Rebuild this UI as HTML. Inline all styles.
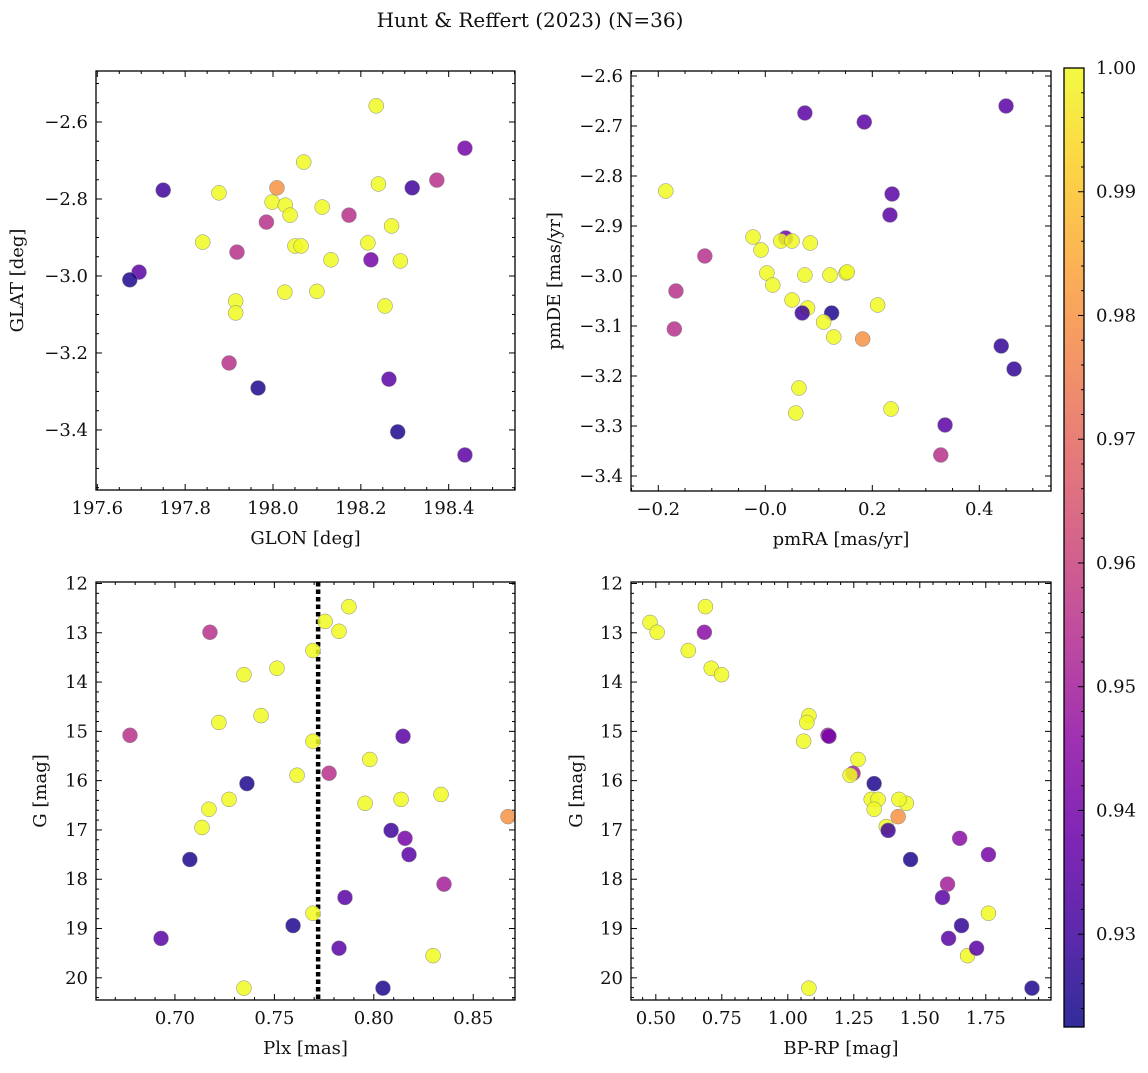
<!DOCTYPE html>
<html><head><meta charset="utf-8">
<style>
html,body{margin:0;padding:0;background:#fff;}
svg text{font-family:"DejaVu Serif","Liberation Serif",serif;fill:#111;}
</style></head>
<body>
<svg id="fig" width="1148" height="1068" viewBox="0 0 1148 1068" xmlns="http://www.w3.org/2000/svg">
<text x="530" y="27" font-size="20" text-anchor="middle">Hunt &amp; Reffert (2023) (N=36)</text>
<defs>
<linearGradient id="plasma" x1="0" y1="1" x2="0" y2="0">
<stop offset="0" stop-color="#0d0887"/><stop offset="0.1" stop-color="#41049d"/><stop offset="0.2" stop-color="#6a00a8"/><stop offset="0.3" stop-color="#8f0da4"/><stop offset="0.4" stop-color="#b12a90"/><stop offset="0.5" stop-color="#cc4778"/><stop offset="0.6" stop-color="#e16462"/><stop offset="0.7" stop-color="#f2844b"/><stop offset="0.8" stop-color="#fca636"/><stop offset="0.9" stop-color="#fcce25"/><stop offset="1" stop-color="#f0f921"/>
</linearGradient>
</defs>
</svg>
<script>
// ---- data ----
const tlGlon = [198.235,198.009,198.07,197.75,198.317,198.437,198.373,198.24,197.877,197.998,198.028,198.112,197.985,198.039,198.173,197.84,198.27,198.05,198.064,198.216,197.918,198.132,198.223,198.29,197.695,197.674,197.915,198.027,198.1,198.255,197.915,197.9,197.966,198.264,198.284,198.437];
const tlGlat = [-2.558,-2.771,-2.704,-2.777,-2.771,-2.668,-2.751,-2.761,-2.784,-2.808,-2.816,-2.821,-2.86,-2.842,-2.842,-2.912,-2.87,-2.922,-2.922,-2.914,-2.938,-2.958,-2.958,-2.961,-2.99,-3.01,-3.065,-3.042,-3.04,-3.078,-3.096,-3.226,-3.291,-3.268,-3.405,-3.465];
const tlProb = [1,0.98,1,0.93,0.93,0.94,0.955,1,1,1,1,1,0.955,1,0.955,1,1,1,1,1,0.955,1,0.94,1,0.935,0.925,1,1,1,1,1,0.955,0.925,0.935,0.925,0.935];

const trPmra = [0.074,0.185,0.45,-0.186,0.237,0.233,-0.023,0.038,0.029,0.05,0.084,-0.008,-0.113,0.003,0.074,0.121,0.151,0.153,0.014,-0.167,0.05,0.21,0.079,0.069,0.124,0.109,-0.17,0.128,0.182,0.441,0.465,0.063,0.235,0.057,0.336,0.328];
const trPmde = [-2.674,-2.692,-2.66,-2.83,-2.836,-2.878,-2.922,-2.924,-2.93,-2.93,-2.934,-2.948,-2.96,-2.994,-2.998,-2.998,-2.994,-2.992,-3.018,-3.03,-3.048,-3.058,-3.064,-3.074,-3.074,-3.092,-3.106,-3.122,-3.126,-3.14,-3.186,-3.224,-3.266,-3.274,-3.298,-3.358];
const trProb = [0.935,0.935,0.935,1,0.935,0.935,1,0.94,1,1,1,1,0.955,1,1,1,1,1,1,0.955,1,1,1,0.93,0.925,1,0.955,1,0.98,0.928,0.928,1,1,1,0.935,0.955];

const blPlx = [0.7875,0.7755,0.7176,0.7825,0.7694,0.7513,0.7347,0.7433,0.7221,0.6774,0.8147,0.7694,0.7775,0.798,0.7614,0.7362,0.8338,0.8137,0.7272,0.7956,0.7171,0.8675,0.7136,0.8087,0.8157,0.8177,0.7075,0.8353,0.7855,0.7694,0.7594,0.8298,0.693,0.7825,0.7347,0.8046];
const blG = [12.47,12.77,12.99,12.97,13.36,13.72,13.85,14.68,14.82,15.08,15.1,15.2,15.85,15.57,15.89,16.06,16.28,16.38,16.38,16.46,16.58,16.73,16.95,17.01,17.17,17.5,17.6,18.1,18.37,18.69,18.94,19.55,19.2,19.4,20.21,20.21];
const blProb = [1,1,0.955,1,1,1,1,1,1,0.955,0.935,1,0.955,1,1,0.925,1,1,1,1,1,0.98,1,0.93,0.94,0.935,0.925,0.95,0.935,1,0.925,1,0.935,0.935,1,0.925];
const plxLine = [0.772];

const brBprp = [0.478,0.505,0.688,0.684,0.623,0.71,0.749,1.08,1.072,1.152,1.156,1.06,1.266,1.247,1.236,1.327,1.316,1.342,1.449,1.327,1.421,1.418,1.373,1.38,1.651,1.76,1.465,1.605,1.586,1.76,1.658,1.681,1.609,1.715,1.08,1.925];
const brG = [12.79,12.99,12.47,12.99,13.36,13.72,13.85,14.68,14.82,15.08,15.1,15.2,15.57,15.85,15.89,16.06,16.38,16.38,16.46,16.58,16.38,16.73,16.93,17.01,17.17,17.5,17.6,18.1,18.37,18.69,18.94,19.55,19.2,19.4,20.21,20.21];
const brProb = [1,1,1,0.945,1,1,1,1,1,0.95,0.94,1,1,0.95,1,0.925,1,1,1,1,1,0.98,1,0.93,0.945,0.94,0.925,0.95,0.935,1,0.928,1,0.935,0.935,1,0.925];

const cbTicks = [0.93,0.94,0.95,0.96,0.97,0.98,0.99,1.00];
const cbMin = 0.9225, cbMax = 1.0;

// ---- helpers ----
const NS = "http://www.w3.org/2000/svg";
const fig = document.getElementById('fig');
function mk(tag, attrs, parent){const e=document.createElementNS(NS,tag);for(const k in attrs)e.setAttribute(k,attrs[k]);(parent||fig).appendChild(e);return e;}
const stops=[[0,13,8,135],[0.1,65,4,157],[0.2,106,0,168],[0.3,143,13,164],[0.4,177,42,144],[0.5,204,71,120],[0.6,225,100,98],[0.7,242,132,75],[0.8,252,166,54],[0.9,252,206,37],[1,240,249,33]];
function plasma(t){t=Math.max(0,Math.min(1,t));for(let i=1;i<stops.length;i++){if(t<=stops[i][0]){const a=stops[i-1],b=stops[i],f=(t-a[0])/(b[0]-a[0]);return `rgb(${Math.round(a[1]+f*(b[1]-a[1]))},${Math.round(a[2]+f*(b[2]-a[2]))},${Math.round(a[3]+f*(b[3]-a[3]))})`;}}return 'rgb(240,249,33)';}
function fmt(v,d){return v.toFixed(d).replace('-','\u2212');}
const FS = 18;

function panel(c){
  const sx=v=>c.L+(v-c.x0)/(c.x1-c.x0)*(c.R-c.L);
  const sy=v=>c.T+(v-c.yTop)/(c.yBot-c.yTop)*(c.B-c.T);
  const g=mk('g',{});
  
  
  const eps=1e-9;
  const xlo=Math.min(c.x0,c.x1), xhi=Math.max(c.x0,c.x1);
  for(let v=Math.ceil(xlo/c.xMinor-eps)*c.xMinor; v<=xhi+eps; v+=c.xMinor){
    const major=Math.abs(v/c.xMajor-Math.round(v/c.xMajor))<1e-6;const len=major?6:3;const x=sx(v);
    mk('line',{x1:x,y1:c.B,x2:x,y2:c.B-len,stroke:'#000','stroke-width':1},g);
    mk('line',{x1:x,y1:c.T,x2:x,y2:c.T+len,stroke:'#000','stroke-width':1},g);
    if(major){const t=mk('text',{x:x,y:c.B+24,'font-size':FS,'text-anchor':'middle'},g);t.textContent=fmt(v,c.xDec);
      
      }
  }
  const ylo=Math.min(c.yTop,c.yBot), yhi=Math.max(c.yTop,c.yBot);
  for(let v=Math.ceil(ylo/c.yMinor-eps)*c.yMinor; v<=yhi+eps; v+=c.yMinor){
    const major=Math.abs(v/c.yMajor-Math.round(v/c.yMajor))<1e-6;const len=major?6:3;const y=sy(v);
    mk('line',{x1:c.L,y1:y,x2:c.L+len,y2:y,stroke:'#000','stroke-width':1},g);
    mk('line',{x1:c.R,y1:y,x2:c.R-len,y2:y,stroke:'#000','stroke-width':1},g);
    if(major){const t=mk('text',{x:c.L-8,y:y+6,'font-size':FS,'text-anchor':'end'},g);t.textContent=fmt(v,c.yDec);
      
      }
  }
  if(c.vline!==undefined){
    const l=mk('line',{x1:sx(c.vline),y1:c.T,x2:sx(c.vline),y2:c.B,stroke:'#000','stroke-width':4.5,'stroke-dasharray':'4.5,3'},g);
    
    
  }
  for(let i=0;i<c.xs.length;i++){
    const p=mk('circle',{cx:sx(c.xs[i]),cy:sy(c.ys[i]),r:7.5,fill:plasma((c.p[i]-cbMin)/(cbMax-cbMin)),'fill-opacity':0.85,stroke:'#888','stroke-width':0.5},g);
    
    
  }
  const box=mk('rect',{x:c.L,y:c.T,width:c.R-c.L,height:c.B-c.T,fill:'none',stroke:'#000','stroke-width':1.3},g);
  
  
  const xl=mk('text',{x:(c.L+c.R)/2,y:c.B+54,'font-size':FS,'text-anchor':'middle'},g);xl.textContent=c.xlabel;
  
  
  const yc=(c.T+c.B)/2;
  const yl=mk('text',{x:c.ylx,y:yc,'font-size':FS,'text-anchor':'middle',transform:`rotate(-90 ${c.ylx} ${yc})`},g);yl.textContent=c.ylabel;
  
  
}

panel({name:'glon-glat-panel',L:96,R:515,T:71,B:490,x0:197.597,x1:198.551,yTop:-2.4675,yBot:-3.556,xMajor:0.2,xMinor:0.05,yMajor:0.2,yMinor:0.05,xDec:1,yDec:1,xs:tlGlon,ys:tlGlat,p:tlProb,xlabel:'GLON [deg]',ylabel:'GLAT [deg]',ylx:23});
panel({name:'pm-panel',L:631,R:1051,T:71,B:491,x0:-0.251,x1:0.534,yTop:-2.59,yBot:-3.43,xMajor:0.2,xMinor:0.05,yMajor:0.1,yMinor:0.02,xDec:1,yDec:1,xs:trPmra,ys:trPmde,p:trProb,xlabel:'pmRA [mas/yr]',ylabel:'pmDE [mas/yr]',ylx:560});
panel({name:'plx-g-panel',L:96,R:515,T:582,B:1000,x0:0.6603,x1:0.871,yTop:11.97,yBot:20.45,xMajor:0.05,xMinor:0.01,yMajor:1,yMinor:0.2,xDec:2,yDec:0,xs:blPlx,ys:blG,p:blProb,xlabel:'Plx [mas]',ylabel:'G [mag]',ylx:46,vline:plxLine[0]});
panel({name:'cmd-panel',L:631,R:1051,T:582,B:1000,x0:0.406,x1:1.997,yTop:11.97,yBot:20.45,xMajor:0.25,xMinor:0.05,yMajor:1,yMinor:0.2,xDec:2,yDec:0,xs:brBprp,ys:brG,p:brProb,xlabel:'BP-RP [mag]',ylabel:'G [mag]',ylx:582});

// colorbar
const cbT=68,cbB=1027,cbL=1064,cbR=1084;
const cbY=v=>cbB-(v-cbMin)/(cbMax-cbMin)*(cbB-cbT);
const cg=mk('g',{});


mk('rect',{x:cbL,y:cbT,width:cbR-cbL,height:cbB-cbT,fill:'url(#plasma)','fill-opacity':0.85},cg);
for(let v=Math.ceil(cbMin/0.002-1e-9)*0.002; v<=cbMax+1e-9; v+=0.002){
  const major=Math.abs(v/0.01-Math.round(v/0.01))<1e-6;const y=cbY(v);
  mk('line',{x1:cbR,y1:y,x2:cbR-(major?6:3),y2:y,stroke:'#000','stroke-width':1},cg);
}
mk('rect',{x:cbL,y:cbT,width:cbR-cbL,height:cbB-cbT,fill:'none',stroke:'#000','stroke-width':1.3},cg);
cbTicks.forEach(v=>{
  const t=mk('text',{x:cbR+12,y:cbY(v)+6,'font-size':FS},cg);t.textContent=v.toFixed(2);
  
  
});
</script>
</body></html>
